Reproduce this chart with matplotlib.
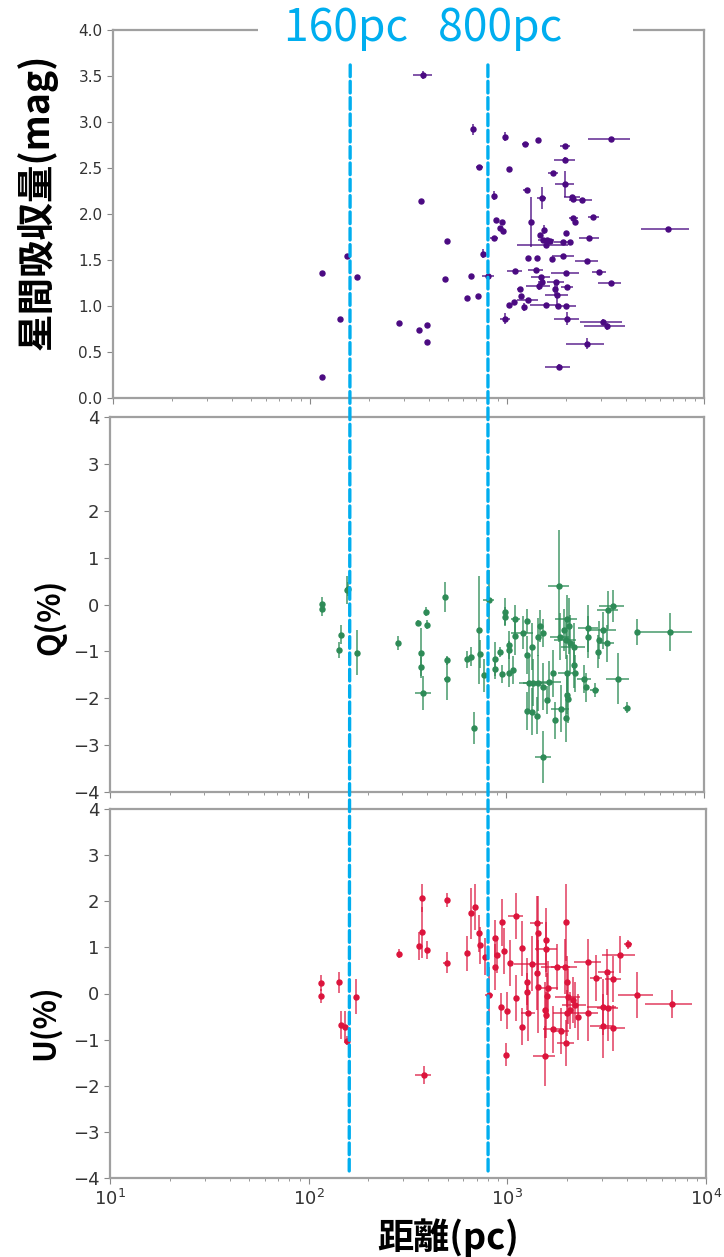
import matplotlib
matplotlib.use("Agg")
import matplotlib.pyplot as plt
import numpy as np
from matplotlib.patches import ConnectionPatch, Rectangle

# ---- extinction (top panel): distance pc, dist err, A mag, A err
ext_dist = [376, 675, 973, 1432, 1236, 1972, 3388, 1972, 724, 1020, 1708, 1972, 1260, 863,
            1501, 2148, 2173, 2395, 368, 1330, 880, 940, 2173, 2225, 2745, 922, 951, 1995,
            1542, 1472, 1530, 1591, 1655, 860, 2620, 1933, 2090, 494, 1580, 753, 155, 1285,
            1415, 1687, 1933, 2560, 115, 1095, 1404, 1995, 2944, 173, 654, 487, 805, 1489,
            1501, 3362, 1767, 2025, 1449, 1754, 1165, 1803, 1183, 1285, 624, 716, 1020, 1086,
            1225, 1579, 1824, 1995, 142, 981, 2025, 3085, 3207, 284, 391, 359, 393, 2560,
            1830, 115, 6600]
ext_derr = [42, 0, 0, 30, 50, 115, 800, 230, 30, 0, 100, 215, 50, 0,
            80, 200, 0, 320, 0, 0, 0, 0, 120, 0, 180, 0, 0, 0,
            0, 0, 0, 150, 0, 40, 300, 200, 0, 0, 450, 0, 0, 0,
            0, 0, 250, 350, 0, 95, 120, 320, 230, 0, 0, 0, 55, 170,
            0, 450, 170, 150, 200, 0, 45, 240, 0, 160, 0, 0, 0, 0,
            0, 270, 0, 250, 0, 60, 300, 750, 750, 0, 0, 0, 0, 560,
            270, 0, 1800]
ext_val = [3.51, 2.92, 2.84, 2.80, 2.76, 2.74, 2.82, 2.59, 2.51, 2.49, 2.45, 2.33, 2.26, 2.20,
           2.17, 2.19, 2.16, 2.15, 2.14, 1.91, 1.94, 1.91, 1.96, 1.91, 1.97, 1.85, 1.82, 1.79,
           1.83, 1.77, 1.72, 1.72, 1.71, 1.74, 1.74, 1.70, 1.70, 1.71, 1.66, 1.57, 1.54, 1.52,
           1.52, 1.51, 1.54, 1.49, 1.36, 1.38, 1.39, 1.36, 1.37, 1.31, 1.33, 1.29, 1.33, 1.31,
           1.26, 1.25, 1.26, 1.21, 1.22, 1.18, 1.18, 1.12, 1.11, 1.07, 1.09, 1.11, 1.01, 1.04,
           0.99, 1.01, 1.00, 1.00, 0.86, 0.86, 0.86, 0.83, 0.78, 0.81, 0.79, 0.74, 0.61, 0.59,
           0.34, 0.23, 1.84]
ext_verr = [0.04, 0.06, 0.05, 0.03, 0, 0, 0, 0.03, 0, 0, 0, 0.14, 0, 0.05,
            0.12, 0, 0.03, 0, 0, 0.27, 0, 0, 0, 0, 0, 0, 0, 0,
            0.05, 0, 0, 0, 0, 0, 0, 0, 0, 0, 0, 0.045, 0, 0,
            0, 0, 0, 0, 0, 0, 0, 0, 0, 0, 0, 0, 0.12, 0,
            0, 0, 0, 0, 0.05, 0.07, 0, 0.14, 0, 0, 0, 0, 0, 0,
            0.045, 0, 0, 0, 0, 0.06, 0.07, 0.03, 0.04, 0, 0, 0, 0, 0.06,
            0.03, 0, 0]

# ---- Q (middle panel)
q_dist = [117, 117, 157, 160, 147, 144, 176, 286, 361, 394, 399, 372, 372, 382, 492, 502,
          502, 633, 663, 689, 728, 739, 774, 817, 880, 880, 932, 992, 992, 1115, 1115, 1039,
          1030, 1039, 951, 1213, 1282, 1282, 1349, 1485, 1543, 1456, 1313, 1374, 1456, 1543,
          1605, 1271, 1349, 1428, 1543, 1859, 2025, 2089, 1873, 2004, 2097, 2205, 2607, 2607,
          3078, 3288, 3457, 4571, 6734, 3693, 4070, 2477, 2536, 2815, 2025, 2064, 1888, 1768,
          2004, 1655, 1736, 2040, 2231, 2205, 2926, 2960, 3226, 1963, 1089]
q_derr = [0, 0, 0, 0, 0, 0, 0, 0, 0, 0, 0, 0, 0, 35, 0, 0,
          15, 0, 0, 0, 0, 0, 0, 50, 0, 0, 0, 0, 0, 60, 0, 0,
          0, 0, 0, 150, 0, 0, 0, 0, 0, 0, 150, 150, 150, 0,
          0, 0, 0, 0, 150, 220, 250, 0, 200, 250, 0, 300, 300, 0,
          500, 400, 500, 0, 2000, 500, 150, 200, 0, 150, 0, 0, 200, 0,
          0, 250, 0, 200, 0, 0, 0, 0, 300, 0, 0]
q_val = [0.02, -0.10, 0.31, 0.34, -0.64, -0.97, -1.03, -0.82, -0.39, -0.15, -0.43, -1.04, -1.33,
         -1.88, 0.15, -1.19, -1.58, -1.17, -1.11, -2.64, -0.55, -1.06, -1.51, 0.10, -1.17, -1.38,
         -1.01, -0.15, -0.26, -0.30, -0.67, -0.87, -0.97, -1.47, -1.48, -0.60, -0.35, -1.08, -0.90,
         -0.46, -0.60, -0.69, -1.67, -1.67, -1.67, -1.75, -2.04, -2.27, -2.29, -2.37, -3.25, 0.39,
         -0.30, -0.46, -0.69, -0.76, -0.83, -0.90, -0.51, -0.69, -0.55, -0.12, -0.03, -0.58, -0.59,
         -1.58, -2.20, -1.58, -1.77, -1.83, -1.93, -2.02, -2.22, -2.47, -2.43, -1.65, -1.47, -1.47,
         -1.47, -1.29, -1.01, -0.76, -0.83, -0.55, -1.40]
q_verr = [0.14, 0.14, 0.3, 0.15, 0.2, 0.18, 0.48, 0.14, 0.05, 0.09, 0.1, 0.53, 0.2, 0.36, 0.32,
          0.1, 0.46, 0.18, 0.2, 0.34, 1.15, 0.3, 0.35, 0.64, 0.36, 0.2, 0.1, 0.28, 0.2, 0.3, 0.4,
          0.3, 0.2, 0.3, 0.2, 0.35, 0.25, 0.4, 0.5, 0.35, 0.3, 0.4, 0.6, 0.5, 0.6, 0.5, 0.3, 0.4,
          0.5, 0.4, 0.55, 1.2, 0.5, 0.6, 0.5, 0.4, 0.6, 0.5, 0.5, 0.45, 0.4, 0.4, 0.35, 0.28, 0.4,
          0.55, 0.12, 0.3, 0.3, 0.15, 0.4, 0.5, 0.5, 0.4, 0.5, 0.45, 0.5, 0.4, 0.4, 0.5, 0.35, 0.4,
          0.4, 0.45, 0.3]

# ---- U (bottom panel)
u_dist = [116, 116, 142, 145, 152, 156, 173, 285, 370, 370, 359, 394, 495, 495, 629, 659, 690,
          722, 726, 772, 811, 379, 867, 883, 867, 940, 925, 1000, 985, 962, 1031, 1105, 1112,
          1190, 1190, 1250, 1275, 1405, 1432, 1405, 1432, 1336, 1565, 1572, 1542, 1542, 1560,
          1600, 1580, 1704, 1855, 1972, 1972, 1770, 1951, 2004, 2028, 2148, 2190, 2276, 2556,
          2556, 2794, 3162, 3417, 3018, 3222, 3390, 3018, 3690, 4064, 4510, 6714, 2000, 2060, 1250]
u_derr = [0, 0, 0, 0, 0, 0, 0, 0, 0, 0, 0, 0, 0, 20, 0, 0, 0,
          0, 0, 0, 40, 35, 0, 0, 0, 0, 0, 0, 0, 0, 0, 100, 0,
          0, 0, 0, 100, 100, 0, 0, 0, 250, 0, 200, 200, 0, 0,
          200, 0, 200, 200, 0, 200, 300, 300, 0, 300, 0, 300, 0, 400,
          300, 200, 300, 300, 500, 400, 500, 400, 700, 200, 900, 1800, 300, 0, 0]
u_val = [0.23, -0.05, 0.24, -0.68, -0.72, -1.02, -0.07, 0.86, 2.07, 1.33, 1.03, 0.94, 2.03, 0.67,
         0.87, 1.74, 1.88, 1.31, 1.05, 0.80, -0.03, -1.77, 0.58, 0.84, 1.20, 1.54, -0.29, -0.37,
         -1.33, 0.92, 0.67, 1.68, -0.10, 0.98, -0.72, 0.26, -0.42, 1.52, 1.31, 0.44, 0.15, 0.65,
         1.16, 0.96, -1.35, -0.36, -0.47, 0.11, -0.05, -0.78, -0.81, 1.54, -1.08, 0.58, 0.58, 0.26,
         -0.07, -0.14, -0.25, -0.50, 0.69, -0.42, 0.33, 0.47, 0.31, -0.29, -0.32, -0.75, -0.70,
         0.84, 1.07, -0.03, -0.23, -0.43, -0.36, 0.04]
u_verr = [0.17, 0.15, 0.23, 0.3, 0.35, 0.1, 0.38, 0.1, 0.3, 0.55, 0.3, 0.2, 0.15, 0.23, 0.38, 0.55,
          0.5, 0.4, 0.4, 0.4, 0.6, 0.2, 0.5, 0.4, 0.4, 0.5, 0.3, 0.4, 0.25, 0.5, 0.5, 0.5, 0.5, 0.6,
          0.4, 0.5, 0.6, 0.6, 0.8, 0.8, 1.0, 0.6, 0.7, 0.6, 0.65, 0.6, 0.5, 0.6, 0.5, 0.5, 0.5, 0.83,
          0.5, 0.5, 0.6, 0.55, 0.6, 0.5, 0.5, 0.5, 0.5, 0.6, 0.5, 0.5, 0.5, 0.6, 0.7, 0.5, 0.7, 0.4,
          0.1, 0.5, 0.3, 0.5, 0.4, 0.4]

boundaries = [160, 800]
boundary_text = "160pc   800pc"

W, H = 724, 1257
fig = plt.figure(figsize=(W / 100, H / 100), dpi=100)

# panel rectangles in pixels: left, top, right, bottom
boxes = [(113, 30, 704, 398), (110, 417, 704, 792), (110, 809, 706, 1178)]
axes = []
for l, t, r, b in boxes:
    axes.append(fig.add_axes([l / W, 1 - b / H, (r - l) / W, (b - t) / H]))
ax1, ax2, ax3 = axes

cjk = ['Noto Sans CJK JP', 'DejaVu Sans']
spine_col = '#a0a0a0'


def style(ax, ylim, yticks, fmt, fs):
    ax.set_xscale('log')
    ax.set_xlim(10, 1e4)
    ax.set_ylim(*ylim)
    ax.set_yticks(yticks)
    ax.set_yticklabels([fmt.format(v).replace('-', '\u2212') for v in yticks])
    for s in ax.spines.values():
        s.set_color(spine_col)
        s.set_linewidth(1.6)
    ax.tick_params(which='both', colors='#888888', labelcolor='#333333', labelsize=fs,
                   direction='out')
    ax.tick_params(which='major', length=4)
    ax.tick_params(which='minor', length=2.5)


style(ax1, (0, 4), np.arange(0, 4.01, 0.5), '{:.1f}', 11)
style(ax2, (-4, 4), np.arange(-4, 5), '{:d}', 13)
style(ax3, (-4, 4), np.arange(-4, 5), '{:d}', 13)
ax1.tick_params(axis='x', labelbottom=False)
ax2.tick_params(axis='x', labelbottom=False)

ekw = dict(fmt='o', ms=3.6, elinewidth=1.3, capsize=0, linestyle='none')
ax1.errorbar(ext_dist, ext_val, xerr=ext_derr, yerr=ext_verr, color='#4b0a82',
             ecolor=(0.29, 0.04, 0.51, 0.75), **ekw)
ax2.errorbar(q_dist, q_val, xerr=q_derr, yerr=q_verr, color='#2e8b57',
             ecolor=(0.18, 0.55, 0.34, 0.75), **ekw)
ax3.errorbar(u_dist, u_val, xerr=u_derr, yerr=u_verr, color='#dc143c',
             ecolor=(0.86, 0.08, 0.24, 0.7), **ekw)

ax1.set_ylabel('星間吸収量(mag)', family=cjk, fontweight='bold', fontsize=27)
ax2.set_ylabel('Q(%)', family=cjk, fontweight='bold', fontsize=22)
ax3.set_ylabel('U(%)', family=cjk, fontweight='bold', fontsize=22)
for ax, (x, y) in zip(axes, [(-0.129, 0.533), (-0.101, 0.467), (-0.109, 0.423)]):
    ax.yaxis.label.set_va('center')
    ax.yaxis.set_label_coords(x, y)
ax3.set_xlabel('距離(pc)', family=cjk, fontweight='bold', fontsize=26, va='center')
ax3.xaxis.set_label_coords(0.567, -0.163)

# dashed distance boundaries crossing all three panels
for d in boundaries:
    con = ConnectionPatch(xyA=(d, 3.62), coordsA=ax1.transData,
                          xyB=(d, -3.87), coordsB=ax3.transData,
                          color='#00aeef', lw=2.4, linestyle=(0, (3.5, 1.4)), zorder=10)
    fig.add_artist(con)

# white band hiding the top spine behind the annotation
fig.add_artist(Rectangle((258 / W, 1 - 48 / H), (633 - 258) / W, 36 / H,
                         transform=fig.transFigure, facecolor='white',
                         edgecolor='none', zorder=11))
fig.text(423 / W, 1 - 28 / H, boundary_text, family=cjk, fontsize=32, color='#00aeef',
         ha='center', va='center', zorder=12)

fig.savefig('out.png', dpi=100)
